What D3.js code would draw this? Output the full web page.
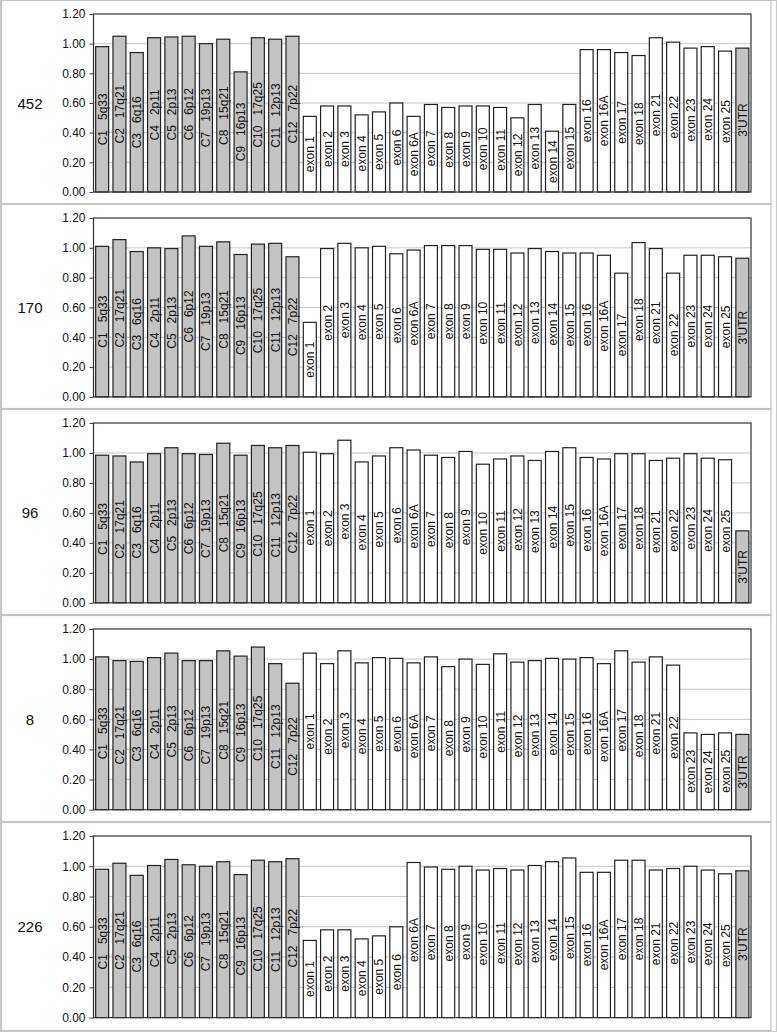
<!DOCTYPE html>
<html>
<head>
<meta charset="utf-8">
<script src="https://cdn.jsdelivr.net/npm/d3@7"></script>
<style>
  html, body { margin: 0; padding: 0; background: #fff; }
  svg { display: block; }
  text { font-family: "Liberation Sans", Arial, sans-serif; fill: #111; }
</style>
</head>
<body>
<svg id="chart" width="777" height="1032"></svg>
<script>
// ---------- data ----------
const categories = ["C1","C2","C3","C4","C5","C6","C7","C8","C9","C10","C11","C12",
  "exon 1","exon 2","exon 3","exon 4","exon 5","exon 6","exon 6A","exon 7","exon 8","exon 9",
  "exon 10","exon 11","exon 12","exon 13","exon 14","exon 15","exon 16","exon 16A","exon 17",
  "exon 18","exon 21","exon 22","exon 23","exon 24","exon 25","3'UTR"];
const cytobands = ["5q33","17q21","6q16","2p11","2p13","6p12","19p13","15q21","16p13","17q25","12p13","7p22"];
const sampleNames = ["452","170","96","8","226"];
const yTicks = [0, 0.2, 0.4, 0.6, 0.8, 1.0, 1.2];

const s452 = [0.98,1.05,0.94,1.04,1.045,1.05,1.00,1.03,0.81,1.04,1.03,1.05,
  0.51,0.58,0.58,0.52,0.54,0.60,0.51,0.59,0.57,0.58,0.58,0.57,0.50,0.59,0.41,0.59,
  0.96,0.96,0.94,0.92,1.04,1.01,0.97,0.98,0.95,0.97];
const s170 = [1.01,1.055,0.975,1.00,0.995,1.08,1.01,1.04,0.955,1.025,1.03,0.94,
  0.50,0.995,1.03,1.00,1.01,0.96,0.985,1.015,1.015,1.015,0.99,0.99,0.965,0.995,0.975,0.965,
  0.965,0.95,0.83,1.035,0.995,0.83,0.95,0.95,0.94,0.93];
const s96 = [0.985,0.98,0.94,0.995,1.035,0.995,0.99,1.065,0.985,1.05,1.035,1.05,
  1.005,0.995,1.085,0.94,0.98,1.035,1.02,0.985,0.97,1.01,0.925,0.96,0.98,0.95,1.01,1.035,
  0.97,0.96,0.995,0.995,0.95,0.965,0.995,0.965,0.955,0.48];
const s8 = [1.015,0.99,0.985,1.01,1.04,0.99,0.99,1.055,1.02,1.08,0.97,0.84,
  1.04,0.97,1.055,0.975,1.01,1.005,0.975,1.015,0.95,1.00,0.965,1.035,0.98,0.99,1.005,1.00,
  1.01,0.97,1.055,0.98,1.015,0.96,0.51,0.50,0.51,0.50];
const s226 = [0.98,1.02,0.94,1.005,1.045,1.01,1.00,1.03,0.945,1.04,1.03,1.05,
  0.51,0.58,0.58,0.52,0.54,0.60,1.025,0.995,0.98,1.00,0.975,0.985,0.975,1.005,1.03,1.055,
  0.96,0.96,1.04,1.04,0.975,0.985,1.00,0.975,0.95,0.97];
const seriesList = [s452, s170, s96, s8, s226];

// ---------- layout ----------
const svg = d3.select("#chart");
const W = 777;
const panelTops = [0, 204, 409, 615, 822, 1031];
const plotLeft = 93.5, plotRight = 751;
const grayFill = "#c3c3c3";
const nbsp = "\u00a0\u00a0\u00a0";

const x = d3.scaleBand().domain(categories).range([plotLeft, plotRight])
  .paddingInner(0.25).paddingOuter(0.125);

function labelFor(cat, i) {
  return i < cytobands.length ? cat + nbsp + cytobands[i] : cat;
}
function isGray(cat) { return cat.startsWith("C") || cat === "3'UTR"; }

// panel frames
svg.append("rect").attr("x", 0.5).attr("y", 0.5).attr("width", W - 1).attr("height", 1031)
  .attr("fill", "none").attr("stroke", "#c8c8c8");

seriesList.forEach((vals, p) => {
  const top = panelTops[p];
  const bottom = panelTops[p + 1];
  const g = svg.append("g");

  // panel box
  g.append("rect").attr("x", 1.5).attr("y", top + 0.5)
    .attr("width", 771 - 1.5).attr("height", bottom - top - 1)
    .attr("fill", "none").attr("stroke", "#c4c4c4").attr("stroke-width", 1.2);

  const plotTop = top + 14;
  const plotBottom = top + 192 + p * 0.9;
  const y = d3.scaleLinear().domain([0, 1.2]).range([plotBottom, plotTop]);

  // gridlines
  g.append("g").selectAll("line").data(yTicks.filter(t => t > 0 && t < 1.2)).join("line")
    .attr("x1", plotLeft).attr("x2", plotRight)
    .attr("y1", d => y(d)).attr("y2", d => y(d))
    .attr("stroke", "#c6c6c6").attr("stroke-width", 1);

  // y axis
  const axis = d3.axisLeft(y).tickValues(yTicks).tickFormat(d3.format(".2f"))
    .tickSizeInner(4).tickSizeOuter(0).tickPadding(4);
  const ag = g.append("g").attr("transform", `translate(${plotLeft},0)`).call(axis);
  ag.select(".domain").remove();
  ag.selectAll(".tick line").attr("stroke", "#444");
  ag.selectAll(".tick text").attr("font-size", 12)
    .attr("font-family", "'Liberation Sans', Arial, sans-serif").attr("fill", "#111");

  // bars
  g.append("g").selectAll("rect").data(vals).join("rect")
    .attr("x", (d, i) => x(categories[i]))
    .attr("width", x.bandwidth())
    .attr("y", d => y(d))
    .attr("height", d => y(0) - y(d))
    .attr("fill", (d, i) => isGray(categories[i]) ? grayFill : "#fff")
    .attr("stroke", "#222").attr("stroke-width", 1.2);

  // frame
  g.append("rect").attr("x", plotLeft).attr("y", plotTop)
    .attr("width", plotRight - plotLeft).attr("height", plotBottom - plotTop)
    .attr("fill", "none").attr("stroke", "#333").attr("stroke-width", 1.2);

  // bar labels (centered in bars, rotated)
  g.append("g").selectAll("text").data(vals).join("text")
    .attr("transform", (d, i) =>
      `translate(${x(categories[i]) + x.bandwidth() / 2 + 0.5},${(y(0) + y(d)) / 2}) rotate(-90)`)
    .attr("text-anchor", "middle")
    .attr("dominant-baseline", "central")
    .attr("font-size", 12)
    .text((d, i) => labelFor(categories[i], i));

  // sample label
  g.append("text").attr("x", 30).attr("y", (plotTop + plotBottom) / 2)
    .attr("text-anchor", "middle").attr("dominant-baseline", "central")
    .attr("font-size", 15).text(sampleNames[p]);
});
</script>
</body>
</html>
